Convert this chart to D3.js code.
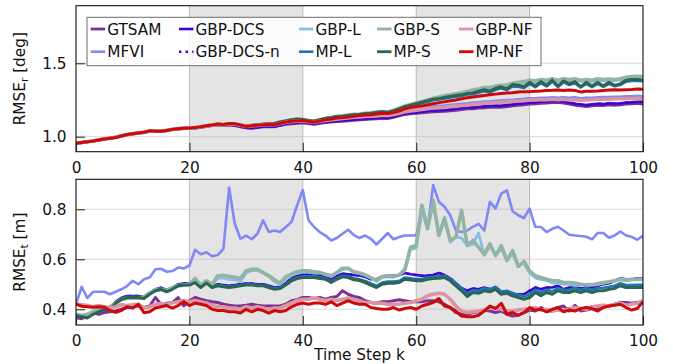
<!DOCTYPE html>
<html>
<head>
<meta charset="utf-8">
<script src="https://cdnjs.cloudflare.com/ajax/libs/d3/7.8.5/d3.min.js"></script>
<style>
  html, body { margin: 0; padding: 0; background: #fff; }
  svg { display: block; font-family: "DejaVu Sans", sans-serif; }
</style>
</head>
<body>
<svg id="chart" width="673" height="364"></svg>
<script>
// time steps k = 0..100
const steps = d3.range(0, 101);
const xTicks = [0, 20, 40, 60, 80, 100];
const spans = [[20, 40], [60, 80]];

// ---- top panel: RMSE_r [deg]
const rotTicks = [1.0, 1.5];
const rotGtsam = [
  0.955,0.96,0.965,0.97,0.978,0.985,0.99,0.995,1.005,1.015,
  1.02,1.025,1.03,1.04,1.038,1.037,1.042,1.05,1.055,1.058,
  1.058,1.06,1.064,1.07,1.076,1.08,1.076,1.08,1.076,1.068,
  1.06,1.058,1.062,1.068,1.07,1.068,1.077,1.085,1.089,1.092,
  1.095,1.09,1.085,1.092,1.097,1.1,1.103,1.105,1.108,1.112,
  1.115,1.117,1.12,1.122,1.126,1.124,1.132,1.142,1.152,1.157,
  1.16,1.163,1.167,1.17,1.172,1.174,1.177,1.18,1.185,1.19,
  1.19,1.195,1.198,1.2,1.202,1.2,1.205,1.21,1.215,1.218,
  1.222,1.225,1.228,1.23,1.233,1.235,1.23,1.222,1.215,1.21,
  1.205,1.21,1.215,1.212,1.218,1.215,1.218,1.222,1.225,1.227,
  1.222];
const rotMfvi = [
  0.955,0.961,0.966,0.971,0.978,0.985,0.991,0.996,1.005,1.014,
  1.02,1.025,1.031,1.039,1.038,1.037,1.042,1.049,1.055,1.058,
  1.06,1.062,1.067,1.074,1.079,1.085,1.082,1.088,1.086,1.079,
  1.07,1.074,1.077,1.081,1.084,1.082,1.09,1.098,1.103,1.106,
  1.108,1.104,1.098,1.106,1.112,1.118,1.125,1.13,1.133,1.136,
  1.14,1.143,1.145,1.148,1.152,1.15,1.158,1.168,1.178,1.185,
  1.19,1.195,1.2,1.205,1.21,1.213,1.218,1.22,1.225,1.228,
  1.232,1.235,1.24,1.24,1.245,1.248,1.25,1.252,1.255,1.258,
  1.262,1.262,1.265,1.265,1.268,1.265,1.268,1.265,1.268,1.262,
  1.265,1.265,1.268,1.27,1.27,1.272,1.272,1.275,1.275,1.278,
  1.276];
const rotGbpDcs = [
  0.955,0.96,0.965,0.97,0.978,0.985,0.99,0.995,1.005,1.015,
  1.02,1.025,1.03,1.04,1.038,1.037,1.042,1.05,1.055,1.058,
  1.058,1.06,1.065,1.072,1.078,1.083,1.078,1.083,1.078,1.07,
  1.062,1.06,1.065,1.07,1.072,1.07,1.08,1.088,1.092,1.095,
  1.098,1.093,1.088,1.095,1.1,1.105,1.108,1.11,1.115,1.118,
  1.12,1.122,1.125,1.128,1.132,1.13,1.138,1.148,1.158,1.163,
  1.167,1.17,1.175,1.178,1.18,1.182,1.186,1.19,1.195,1.2,
  1.2,1.205,1.208,1.21,1.212,1.21,1.215,1.22,1.225,1.228,
  1.232,1.235,1.238,1.24,1.243,1.245,1.24,1.232,1.225,1.22,
  1.215,1.22,1.225,1.222,1.228,1.225,1.228,1.232,1.235,1.237,
  1.238];
const rotGbpDcsN = [
  0.955,0.96,0.965,0.97,0.978,0.985,0.99,0.995,1.005,1.015,
  1.02,1.025,1.03,1.04,1.038,1.037,1.042,1.05,1.055,1.058,
  1.058,1.06,1.065,1.072,1.078,1.083,1.078,1.083,1.078,1.07,
  1.062,1.06,1.065,1.07,1.072,1.07,1.08,1.088,1.092,1.095,
  1.098,1.093,1.088,1.095,1.1,1.105,1.108,1.11,1.115,1.118,
  1.12,1.122,1.125,1.128,1.132,1.13,1.138,1.148,1.158,1.163,
  1.167,1.17,1.175,1.178,1.18,1.182,1.186,1.19,1.195,1.2,
  1.2,1.205,1.208,1.21,1.212,1.21,1.215,1.22,1.225,1.228,
  1.232,1.235,1.238,1.24,1.243,1.245,1.24,1.232,1.225,1.22,
  1.215,1.22,1.225,1.222,1.228,1.225,1.228,1.232,1.235,1.237,
  1.238];
const rotGbpL = [
  0.955,0.96,0.966,0.972,0.979,0.986,0.99,0.997,1.006,1.014,
  1.02,1.026,1.031,1.039,1.038,1.038,1.043,1.05,1.054,1.057,
  1.059,1.061,1.066,1.073,1.079,1.084,1.081,1.086,1.086,1.079,
  1.073,1.078,1.082,1.086,1.089,1.09,1.1,1.107,1.113,1.118,
  1.117,1.11,1.106,1.115,1.124,1.13,1.136,1.14,1.145,1.15,
  1.152,1.157,1.16,1.165,1.168,1.166,1.175,1.19,1.205,1.215,
  1.225,1.235,1.245,1.255,1.262,1.27,1.278,1.285,1.292,1.3,
  1.308,1.315,1.325,1.325,1.335,1.34,1.343,1.355,1.36,1.365,
  1.375,1.37,1.38,1.375,1.385,1.375,1.385,1.38,1.385,1.375,
  1.38,1.375,1.385,1.38,1.382,1.38,1.385,1.395,1.4,1.402,
  1.4];
const rotMpL = [
  0.955,0.96,0.965,0.972,0.978,0.985,0.99,0.997,1.005,1.013,
  1.02,1.025,1.03,1.038,1.037,1.037,1.043,1.05,1.053,1.057,
  1.058,1.06,1.065,1.072,1.078,1.083,1.08,1.085,1.085,1.078,
  1.072,1.077,1.082,1.085,1.088,1.088,1.097,1.105,1.11,1.115,
  1.113,1.106,1.102,1.11,1.12,1.125,1.132,1.135,1.14,1.144,
  1.148,1.152,1.155,1.16,1.165,1.162,1.17,1.185,1.2,1.21,
  1.218,1.228,1.238,1.248,1.254,1.26,1.268,1.273,1.278,1.288,
  1.29,1.3,1.31,1.302,1.32,1.33,1.318,1.343,1.34,1.332,
  1.36,1.338,1.365,1.342,1.375,1.338,1.37,1.352,1.365,1.335,
  1.36,1.338,1.36,1.34,1.36,1.343,1.352,1.375,1.38,1.38,
  1.378];
const rotGbpS = [
  0.955,0.96,0.966,0.972,0.979,0.986,0.99,0.997,1.006,1.014,
  1.02,1.026,1.031,1.039,1.038,1.038,1.043,1.05,1.054,1.057,
  1.059,1.061,1.066,1.073,1.079,1.084,1.081,1.086,1.086,1.079,
  1.073,1.078,1.082,1.086,1.089,1.09,1.1,1.107,1.113,1.118,
  1.117,1.11,1.106,1.115,1.124,1.13,1.138,1.142,1.148,1.153,
  1.155,1.16,1.163,1.168,1.172,1.17,1.18,1.195,1.21,1.22,
  1.23,1.24,1.25,1.262,1.27,1.278,1.285,1.293,1.3,1.31,
  1.318,1.325,1.335,1.335,1.345,1.35,1.352,1.365,1.37,1.375,
  1.385,1.38,1.39,1.385,1.395,1.385,1.395,1.39,1.395,1.385,
  1.39,1.385,1.395,1.39,1.392,1.39,1.395,1.405,1.41,1.412,
  1.41];
const rotMpS = [
  0.955,0.96,0.965,0.972,0.978,0.985,0.99,0.997,1.005,1.013,
  1.02,1.025,1.03,1.038,1.037,1.037,1.043,1.05,1.053,1.057,
  1.058,1.06,1.065,1.072,1.078,1.083,1.08,1.085,1.085,1.078,
  1.072,1.077,1.082,1.085,1.088,1.09,1.1,1.108,1.115,1.12,
  1.118,1.11,1.105,1.115,1.125,1.13,1.138,1.14,1.145,1.15,
  1.152,1.158,1.16,1.165,1.17,1.165,1.175,1.19,1.205,1.215,
  1.225,1.235,1.245,1.255,1.26,1.268,1.275,1.28,1.285,1.295,
  1.298,1.31,1.32,1.31,1.33,1.34,1.325,1.355,1.35,1.34,
  1.37,1.345,1.375,1.35,1.385,1.345,1.38,1.36,1.375,1.34,
  1.37,1.345,1.37,1.345,1.37,1.35,1.36,1.385,1.39,1.39,
  1.385];
const rotGbpNf = [
  0.955,0.961,0.966,0.971,0.978,0.985,0.991,0.996,1.005,1.014,
  1.02,1.025,1.031,1.039,1.038,1.037,1.042,1.049,1.055,1.058,
  1.06,1.062,1.067,1.074,1.079,1.085,1.082,1.088,1.086,1.079,
  1.07,1.074,1.077,1.081,1.084,1.082,1.09,1.098,1.103,1.106,
  1.107,1.103,1.097,1.105,1.11,1.115,1.12,1.124,1.128,1.132,
  1.135,1.138,1.14,1.142,1.146,1.144,1.152,1.16,1.17,1.176,
  1.18,1.185,1.19,1.195,1.198,1.2,1.205,1.208,1.212,1.215,
  1.22,1.222,1.228,1.228,1.232,1.235,1.237,1.24,1.243,1.245,
  1.25,1.25,1.252,1.252,1.255,1.252,1.255,1.25,1.252,1.248,
  1.25,1.252,1.255,1.255,1.256,1.258,1.258,1.26,1.26,1.262,
  1.26];
const rotMpNf = [
  0.955,0.96,0.965,0.97,0.978,0.985,0.99,0.995,1.005,1.015,
  1.02,1.025,1.03,1.04,1.038,1.037,1.042,1.05,1.055,1.058,
  1.06,1.062,1.068,1.075,1.08,1.087,1.083,1.09,1.088,1.08,
  1.07,1.075,1.078,1.082,1.085,1.082,1.092,1.1,1.105,1.108,
  1.11,1.105,1.098,1.108,1.115,1.12,1.128,1.13,1.135,1.14,
  1.145,1.148,1.15,1.155,1.16,1.158,1.165,1.175,1.19,1.2,
  1.205,1.21,1.218,1.225,1.232,1.238,1.245,1.25,1.258,1.265,
  1.27,1.275,1.28,1.285,1.29,1.295,1.298,1.3,1.305,1.307,
  1.307,1.31,1.312,1.315,1.316,1.318,1.314,1.318,1.315,1.305,
  1.31,1.31,1.312,1.315,1.318,1.32,1.318,1.32,1.322,1.325,
  1.323];

// ---- bottom panel: RMSE_t [m]
const transTicks = [0.4, 0.6, 0.8];
const transGtsam = [
  0.366,0.362,0.373,0.387,0.38,0.387,0.39,0.393,0.40,0.407,
  0.41,0.413,0.407,0.413,0.447,0.42,0.424,0.427,0.447,0.413,
  0.434,0.447,0.44,0.434,0.43,0.427,0.42,0.416,0.413,0.413,
  0.416,0.42,0.416,0.413,0.413,0.413,0.413,0.42,0.434,0.438,
  0.447,0.447,0.443,0.447,0.44,0.447,0.451,0.474,0.46,0.451,
  0.447,0.434,0.427,0.424,0.43,0.43,0.434,0.438,0.434,0.43,
  0.43,0.43,0.434,0.434,0.43,0.42,0.407,0.387,0.38,0.38,
  0.387,0.39,0.396,0.393,0.387,0.393,0.38,0.373,0.376,0.387,
  0.397,0.393,0.407,0.393,0.393,0.407,0.413,0.393,0.416,0.393,
  0.397,0.403,0.40,0.41,0.413,0.42,0.427,0.427,0.424,0.427,
  0.43];
const transMfvi = [
  0.42,0.49,0.445,0.47,0.47,0.47,0.46,0.47,0.48,0.493,
  0.514,0.50,0.52,0.527,0.56,0.562,0.55,0.553,0.567,0.563,
  0.575,0.638,0.62,0.628,0.612,0.617,0.642,0.886,0.742,0.682,
  0.695,0.68,0.702,0.756,0.709,0.715,0.709,0.729,0.749,0.816,
  0.877,0.756,0.729,0.709,0.695,0.675,0.685,0.702,0.718,0.697,
  0.685,0.695,0.682,0.659,0.682,0.705,0.68,0.689,0.695,0.695,
  0.695,0.796,0.722,0.897,0.83,0.81,0.776,0.715,0.709,0.715,
  0.73,0.742,0.715,0.83,0.803,0.863,0.876,0.792,0.776,0.765,
  0.803,0.73,0.729,0.709,0.722,0.73,0.715,0.698,0.695,0.693,
  0.69,0.68,0.705,0.705,0.686,0.695,0.711,0.695,0.69,0.678,
  0.695];
const transGbpDcs = [
  0.38,0.374,0.37,0.385,0.395,0.403,0.404,0.43,0.446,0.453,
  0.453,0.453,0.45,0.466,0.48,0.486,0.477,0.487,0.5,0.503,
  0.503,0.513,0.493,0.511,0.493,0.5,0.497,0.494,0.497,0.5,
  0.503,0.503,0.5,0.5,0.494,0.487,0.49,0.504,0.524,0.533,
  0.538,0.538,0.538,0.535,0.532,0.52,0.532,0.542,0.54,0.537,
  0.535,0.53,0.52,0.52,0.53,0.534,0.534,0.537,0.545,0.54,
  0.537,0.534,0.535,0.537,0.545,0.537,0.524,0.504,0.484,0.474,
  0.483,0.48,0.487,0.48,0.487,0.47,0.467,0.456,0.46,0.46,
  0.474,0.487,0.48,0.487,0.487,0.494,0.48,0.487,0.49,0.483,
  0.487,0.487,0.494,0.5,0.504,0.514,0.523,0.52,0.52,0.523,
  0.523];
const transGbpDcsN = [
  0.38,0.374,0.37,0.385,0.395,0.403,0.404,0.43,0.446,0.453,
  0.453,0.453,0.45,0.466,0.48,0.486,0.477,0.487,0.5,0.503,
  0.503,0.513,0.493,0.511,0.493,0.5,0.497,0.494,0.497,0.5,
  0.503,0.503,0.5,0.5,0.494,0.487,0.49,0.504,0.524,0.533,
  0.538,0.538,0.538,0.535,0.532,0.52,0.532,0.542,0.54,0.537,
  0.535,0.53,0.52,0.52,0.53,0.534,0.534,0.537,0.545,0.54,
  0.537,0.534,0.535,0.537,0.545,0.537,0.524,0.504,0.484,0.474,
  0.483,0.48,0.487,0.48,0.487,0.47,0.467,0.456,0.46,0.46,
  0.474,0.487,0.48,0.487,0.487,0.494,0.48,0.487,0.49,0.483,
  0.487,0.487,0.494,0.5,0.504,0.514,0.523,0.52,0.52,0.523,
  0.523];
const transGbpL = [
  0.378,0.372,0.377,0.388,0.398,0.403,0.408,0.422,0.437,0.442,
  0.443,0.443,0.447,0.462,0.475,0.478,0.472,0.482,0.492,0.495,
  0.498,0.52,0.493,0.51,0.497,0.525,0.525,0.52,0.518,0.51,
  0.545,0.555,0.555,0.545,0.53,0.51,0.50,0.52,0.535,0.545,
  0.55,0.55,0.545,0.545,0.538,0.53,0.545,0.56,0.562,0.548,
  0.543,0.535,0.525,0.512,0.528,0.53,0.528,0.535,0.555,0.64,
  0.645,0.796,0.735,0.816,0.70,0.769,0.668,0.69,0.685,0.655,
  0.66,0.705,0.615,0.65,0.62,0.64,0.60,0.62,0.575,0.585,
  0.545,0.525,0.52,0.515,0.505,0.505,0.50,0.50,0.495,0.497,
  0.50,0.50,0.505,0.508,0.51,0.512,0.518,0.515,0.518,0.518,
  0.518];
const transMpL = [
  0.378,0.372,0.368,0.383,0.393,0.401,0.402,0.427,0.443,0.45,
  0.45,0.45,0.447,0.463,0.477,0.483,0.474,0.484,0.497,0.5,
  0.5,0.51,0.49,0.508,0.49,0.498,0.494,0.49,0.494,0.497,
  0.5,0.5,0.497,0.497,0.49,0.484,0.487,0.5,0.518,0.527,
  0.532,0.532,0.532,0.528,0.525,0.512,0.525,0.535,0.532,0.524,
  0.52,0.513,0.503,0.494,0.507,0.511,0.511,0.514,0.527,0.524,
  0.521,0.521,0.527,0.53,0.532,0.534,0.522,0.503,0.484,0.463,
  0.477,0.474,0.484,0.48,0.49,0.47,0.474,0.465,0.458,0.452,
  0.46,0.478,0.466,0.478,0.472,0.485,0.478,0.478,0.485,0.478,
  0.485,0.478,0.485,0.486,0.49,0.494,0.504,0.497,0.497,0.498,
  0.498];
const transGbpS = [
  0.38,0.375,0.38,0.39,0.40,0.405,0.41,0.425,0.44,0.445,
  0.445,0.445,0.45,0.465,0.478,0.48,0.475,0.485,0.495,0.497,
  0.50,0.523,0.496,0.514,0.50,0.534,0.535,0.532,0.528,0.523,
  0.554,0.56,0.56,0.547,0.535,0.518,0.505,0.53,0.54,0.55,
  0.554,0.554,0.55,0.547,0.54,0.534,0.547,0.564,0.564,0.55,
  0.545,0.538,0.527,0.514,0.531,0.534,0.531,0.537,0.56,0.648,
  0.655,0.816,0.722,0.836,0.695,0.762,0.675,0.689,0.796,0.655,
  0.675,0.648,0.621,0.662,0.615,0.655,0.595,0.635,0.572,0.591,
  0.554,0.534,0.527,0.52,0.514,0.514,0.507,0.507,0.505,0.50,
  0.497,0.497,0.50,0.505,0.51,0.514,0.52,0.517,0.52,0.52,
  0.52];
const transMpS = [
  0.375,0.37,0.365,0.38,0.39,0.398,0.398,0.424,0.44,0.447,
  0.447,0.447,0.443,0.46,0.474,0.48,0.47,0.48,0.494,0.497,
  0.497,0.507,0.487,0.505,0.487,0.494,0.49,0.487,0.49,0.494,
  0.497,0.497,0.494,0.494,0.487,0.48,0.483,0.497,0.514,0.523,
  0.527,0.527,0.527,0.523,0.52,0.507,0.52,0.53,0.527,0.518,
  0.515,0.507,0.497,0.487,0.50,0.504,0.504,0.507,0.52,0.517,
  0.514,0.514,0.52,0.523,0.524,0.527,0.514,0.494,0.474,0.451,
  0.467,0.464,0.474,0.47,0.48,0.46,0.464,0.454,0.447,0.44,
  0.447,0.467,0.454,0.467,0.46,0.474,0.467,0.467,0.474,0.467,
  0.474,0.467,0.474,0.474,0.48,0.483,0.494,0.487,0.487,0.487,
  0.487];
const transGbpNf = [
  0.42,0.418,0.415,0.41,0.415,0.41,0.405,0.41,0.418,0.415,
  0.418,0.42,0.405,0.41,0.42,0.423,0.42,0.425,0.43,0.435,
  0.43,0.435,0.43,0.425,0.415,0.41,0.41,0.405,0.405,0.40,
  0.41,0.405,0.41,0.405,0.40,0.405,0.405,0.415,0.425,0.435,
  0.44,0.44,0.445,0.44,0.435,0.44,0.435,0.44,0.445,0.44,
  0.433,0.427,0.427,0.424,0.424,0.42,0.42,0.42,0.424,0.427,
  0.434,0.44,0.454,0.46,0.464,0.46,0.44,0.413,0.393,0.387,
  0.39,0.393,0.397,0.407,0.407,0.40,0.393,0.393,0.397,0.40,
  0.403,0.407,0.397,0.40,0.393,0.397,0.393,0.403,0.407,0.403,
  0.40,0.41,0.413,0.416,0.413,0.42,0.424,0.416,0.42,0.424,
  0.434];
const transMpNf = [
  0.42,0.412,0.41,0.408,0.41,0.408,0.395,0.388,0.395,0.41,
  0.405,0.42,0.386,0.39,0.405,0.41,0.415,0.405,0.415,0.43,
  0.415,0.425,0.42,0.415,0.40,0.395,0.395,0.39,0.39,0.385,
  0.40,0.39,0.40,0.395,0.385,0.395,0.39,0.395,0.41,0.42,
  0.425,0.42,0.425,0.425,0.42,0.43,0.415,0.425,0.435,0.425,
  0.42,0.42,0.407,0.403,0.40,0.40,0.407,0.397,0.403,0.407,
  0.40,0.413,0.42,0.427,0.443,0.413,0.407,0.393,0.373,0.37,
  0.37,0.376,0.393,0.413,0.403,0.424,0.38,0.387,0.376,0.387,
  0.407,0.397,0.40,0.39,0.40,0.407,0.39,0.397,0.393,0.403,
  0.407,0.403,0.393,0.407,0.413,0.416,0.42,0.407,0.397,0.403,
  0.43];

// series in plot order (legend is filled column by column)
const seriesNames = ['GTSAM', 'MFVI', 'GBP-DCS', 'GBP-DCS-n', 'GBP-L', 'MP-L', 'GBP-S', 'MP-S', 'GBP-NF', 'MP-NF'];
const seriesColors = ['#7b3294', '#8088f5', '#3a06d6', '#3a06d6', '#88bfe6', '#1c74ba', '#93b3a6', '#2a6652', '#da94a4', '#cc0a0a'];
const seriesWidths = [3, 2.6, 2.6, 2.4, 2.8, 2.6, 3.6, 3, 3.6, 3];
const seriesDash = [null, null, null, '2.4,4.2', null, null, null, null, null, null];
const rotValues = [rotGtsam, rotMfvi, rotGbpDcs, rotGbpDcsN, rotGbpL, rotMpL, rotGbpS, rotMpS, rotGbpNf, rotMpNf];
const transValues = [transGtsam, transMfvi, transGbpDcs, transGbpDcsN, transGbpL, transMpL, transGbpS, transMpS, transGbpNf, transMpNf];

const svg = d3.select('#chart');
const left = 76, right = 643;
const x = d3.scaleLinear().domain([0, 100]).range([left, right]);

function drawPanel(opts) {
  const y = d3.scaleLinear().domain(opts.domain).range([opts.bottom, opts.top]);
  const g = svg.append('g');
  const clipId = 'clip-' + opts.id;
  svg.append('clipPath').attr('id', clipId)
    .append('rect')
    .attr('x', left).attr('y', opts.top)
    .attr('width', right - left).attr('height', opts.bottom - opts.top);

  // shaded intervals
  g.selectAll('rect.span')
    .data(spans)
    .enter().append('rect')
    .attr('class', 'span')
    .attr('x', d => x(d[0]))
    .attr('y', opts.top)
    .attr('width', d => x(d[1]) - x(d[0]))
    .attr('height', opts.bottom - opts.top)
    .attr('fill', '#e4e4e4');
  g.selectAll('line.spanEdge')
    .data(spans.flat())
    .enter().append('line')
    .attr('x1', d => x(d)).attr('x2', d => x(d))
    .attr('y1', opts.top).attr('y2', opts.bottom)
    .attr('stroke', '#bcbcbc')
    .attr('stroke-width', 1);

  // horizontal grid
  g.selectAll('line.grid')
    .data(opts.ticks)
    .enter().append('line')
    .attr('x1', left).attr('x2', right)
    .attr('y1', d => y(d)).attr('y2', d => y(d))
    .attr('stroke', '#b8b8b8')
    .attr('stroke-opacity', 0.55)
    .attr('stroke-width', 1);

  const line = d3.line()
    .x((d, i) => x(steps[i]))
    .y(d => y(d));

  g.append('g')
    .attr('clip-path', `url(#${clipId})`)
    .selectAll('path')
    .data(opts.values)
    .enter().append('path')
    .attr('d', d => line(d))
    .attr('fill', 'none')
    .attr('stroke', (d, i) => seriesColors[i])
    .attr('stroke-width', (d, i) => seriesWidths[i])
    .attr('stroke-dasharray', (d, i) => seriesDash[i])
    .attr('stroke-linejoin', 'round');

  // axes with inward ticks
  const xAxis = d3.axisBottom(x).tickValues(xTicks).tickSize(-9).tickPadding(10.5)
    .tickFormat(d3.format('d'));
  const yAxis = d3.axisLeft(y).tickValues(opts.ticks).tickSize(-9).tickPadding(9.5)
    .tickFormat(d3.format('.1f'));

  const gx = g.append('g')
    .attr('transform', `translate(0,${opts.bottom})`)
    .call(xAxis);
  const gy = g.append('g')
    .attr('transform', `translate(${left},0)`)
    .call(yAxis);
  [gx, gy].forEach(a => {
    a.select('.domain').remove();
    a.selectAll('line').attr('stroke', '#333').attr('stroke-width', 1.1);
    a.selectAll('text').attr('fill', '#111').style('font-size', '15.3px')
      .style('font-family', '"DejaVu Sans", sans-serif');
  });

  // frame
  g.append('rect')
    .attr('x', left).attr('y', opts.top)
    .attr('width', right - left).attr('height', opts.bottom - opts.top)
    .attr('fill', 'none')
    .attr('stroke', '#111')
    .attr('stroke-width', 1.1);

  // y label with subscript
  const lab = g.append('text')
    .attr('transform', `translate(24.5,${(opts.top + opts.bottom) / 2}) rotate(-90)`)
    .attr('text-anchor', 'middle')
    .attr('fill', '#111')
    .style('font-size', '15.3px');
  lab.append('tspan').text('RMSE');
  lab.append('tspan').attr('dy', 3.5).style('font-size', '10.7px').text(opts.sub);
  lab.append('tspan').attr('dy', -3.5).text(' ' + opts.unit);
  return y;
}

drawPanel({id: 'rot', top: 5.7, bottom: 151.7, domain: [0.898, 1.892],
  ticks: rotTicks, values: rotValues, sub: 'r', unit: '[deg]'});
drawPanel({id: 'trans', top: 179.3, bottom: 325, domain: [0.337, 0.92],
  ticks: transTicks, values: transValues, sub: 't', unit: '[m]'});

svg.append('text')
  .attr('x', (left + right) / 2)
  .attr('y', 360)
  .attr('text-anchor', 'middle')
  .attr('fill', '#111')
  .style('font-size', '15.3px')
  .text('Time Step k');

// legend (5 columns, 2 rows, column-major)
const legCols = [90.7, 179, 299, 377, 459];
const legRows = [29, 51.7];
const leg = svg.append('g');
leg.append('rect')
  .attr('x', 87).attr('y', 17.3)
  .attr('width', 454).attr('height', 48.4)
  .attr('fill', '#fff').attr('fill-opacity', 0.85)
  .attr('stroke', '#6e6e6e').attr('stroke-width', 1);
const items = leg.selectAll('g.item')
  .data(seriesNames)
  .enter().append('g')
  .attr('transform', (d, i) => `translate(${legCols[Math.floor(i / 2)]},${legRows[i % 2]})`);
items.append('line')
  .attr('x1', 0).attr('x2', 14.5)
  .attr('stroke', (d, i) => seriesColors[i])
  .attr('stroke-width', (d, i) => Math.min(seriesWidths[i], 2.8))
  .attr('stroke-dasharray', (d, i) => seriesDash[i]);
items.append('text')
  .attr('x', 16.5)
  .attr('dy', '0.36em')
  .attr('fill', '#111')
  .style('font-size', '15.3px')
  .text(d => d);
</script>
</body>
</html>
